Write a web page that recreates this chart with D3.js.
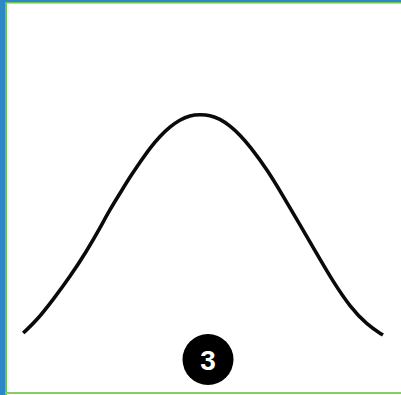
<!DOCTYPE html>
<html>
<head>
<meta charset="utf-8">
<script src="https://cdn.jsdelivr.net/npm/d3@7"></script>
<style>
  html, body { margin: 0; padding: 0; background: #fff; }
  svg { display: block; }
</style>
</head>
<body>
<svg id="chart" width="401" height="395"></svg>
<script>
// curve: x in sd units, y as relative height (peak = 1)
const xValues = [-2.98, -2.75, -2.49, -2.21, -1.93, -1.71, -1.55, -1.38, -1.22, -1.05, -0.89, -0.73, -0.56, -0.40, -0.23, -0.07, 0.10, 0.26, 0.43, 0.59, 0.76, 1.04, 1.30, 1.58, 1.86, 2.13, 2.41, 2.69, 2.95];
const yValues = [0.052, 0.109, 0.196, 0.296, 0.409, 0.510, 0.588, 0.660, 0.729, 0.795, 0.855, 0.905, 0.947, 0.977, 0.996, 1.0, 0.997, 0.981, 0.951, 0.912, 0.861, 0.761, 0.648, 0.522, 0.396, 0.274, 0.165, 0.087, 0.043];
const badgeLabel = "3";

const width = 401;
const height = 395;
const svg = d3.select("#chart");

const points = xValues.map((x, i) => ({ x: x, y: yValues[i] }));

const x = d3.scaleLinear().domain([-3, 3]).range([22, 386]);
const y = d3.scaleLinear().domain([0, 1]).range([345, 114.5]);

// frame edges
svg.append("rect").attr("x", 0).attr("y", 0).attr("width", width).attr("height", height).attr("fill", "#fff");
svg.append("rect").attr("x", 0).attr("y", 0).attr("width", 5).attr("height", height).attr("fill", "#2b87c6");
svg.append("rect").attr("x", 5).attr("y", 0).attr("width", width - 5).attr("height", 2).attr("fill", "#2b87c6");
svg.append("rect").attr("x", 5).attr("y", 2).attr("width", width - 5).attr("height", 1.5).attr("fill", "#72c24f");
svg.append("rect").attr("x", 5).attr("y", 2).attr("width", 2).attr("height", height).attr("fill", "#72c24f");
svg.append("rect").attr("x", 5).attr("y", 392).attr("width", width - 5).attr("height", 2).attr("fill", "#86cd62");

const line = d3.line()
    .x(d => x(d.x))
    .y(d => y(d.y))
    .curve(d3.curveBasis);

svg.append("path")
    .datum(points)
    .attr("d", line)
    .attr("fill", "none")
    .attr("stroke", "#0a0a0a")
    .attr("stroke-width", 3.6)
    .attr("stroke-linecap", "butt");

// numbered badge
const badge = svg.append("g").attr("transform", "translate(208,359.5)");
badge.append("circle").attr("r", 25.5).attr("fill", "#000");
badge.append("text")
    .attr("text-anchor", "middle")
    .attr("dy", "0.36em")
    .attr("font-family", "Liberation Sans, Arial, sans-serif")
    .attr("font-weight", "bold")
    .attr("font-size", 28)
    .attr("fill", "#fff")
    .text(badgeLabel);
</script>
</body>
</html>
